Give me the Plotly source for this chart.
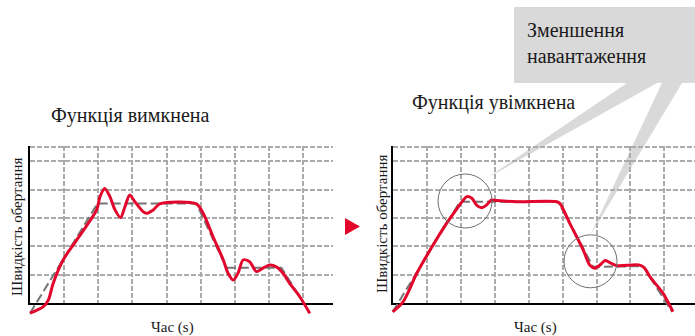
import plotly.graph_objects as go

W, H = 695, 336

# ---------------- data ----------------
# Left panel: function off
left_red_x = [0, 0.39, 0.54, 0.68, 0.97, 1.37, 1.95, 2.05, 2.19, 2.34, 2.49, 2.65, 2.78, 2.92, 3.07,
              3.31, 3.41, 3.61, 3.80, 4.87, 5.07, 5.36, 5.66, 5.80, 5.95, 6.09, 6.24, 6.43, 6.63,
              6.82, 7.02, 7.21, 7.41, 7.60, 7.90, 8.19]
left_red_y = [-0.36, -0.13, 0.11, 0.70, 1.52, 2.23, 3.29, 3.76, 4.05, 3.76, 3.29, 3.02, 3.40, 3.82, 3.58,
              3.23, 3.17, 3.29, 3.50, 3.50, 3.17, 2.34, 1.52, 1.05, 0.81, 1.05, 1.52, 1.46, 1.11,
              1.23, 1.34, 1.28, 1.05, 0.70, 0.22, -0.36]
left_ref_x = [0, 1.98, 4.87, 5.75, 7.36, 8.20]
left_ref_y = [-0.36, 3.52, 3.52, 1.25, 1.25, -0.36]

# Right panel: function on
right_red_x = [0, 0.31, 0.71, 1.10, 1.59, 1.93, 2.08, 2.18, 2.33, 2.47, 2.62, 2.76, 2.91, 3.06, 3.65,
               4.82, 4.92, 5.21, 5.61, 5.80, 5.95, 6.10, 6.25, 6.39, 6.59, 7.27, 7.42, 7.57, 7.96, 8.25]
right_red_y = [-0.31, 0.05, 1.05, 1.87, 2.82, 3.40, 3.64, 3.76, 3.70, 3.46, 3.37, 3.46, 3.64, 3.62, 3.58,
               3.58, 3.52, 2.82, 1.87, 1.34, 1.23, 1.34, 1.50, 1.43, 1.32, 1.34, 1.23, 0.93, 0.34, -0.31]
right_ref_x = [0, 1.98, 4.87, 5.90, 7.37, 8.22]
right_ref_y = [-0.31, 3.58, 3.58, 1.28, 1.30, -0.30]

grid_x_ticks = [1, 2, 3, 4, 5, 6, 7, 8]
grid_y_ticks = [1, 2, 3, 4, 5, 5.5]

title_left = "Функція вимкнена"
title_right = "Функція увімкнена"
callout_text = "Зменшення<br>навантаження"
y_title = "Швидкість обертання"
x_title = "Час (s)"

# ---------------- helpers ----------------
def fx(px):
    return px / W


def fy(py):
    return 1 - py / H


RED = "#e2062c"
REF = "#757575"
GRID = "#ababab"
FONT = "Liberation Serif, Times New Roman, Tinos, serif"

PXX_L, PXX_R = 34.15, 33.97   # px per x unit
PXY = 28.3                    # px per y unit
X0_L, X0_R, Y0 = 30.0, 392.7, 303.0
YTOP = 5.55
XMAX_L = (333 - X0_L) / PXX_L
XMAX_R = (W - X0_R) / PXX_R
XPAD = 0.06
YPAD = 0.45

fig = go.Figure()

# empty traces to anchor grid subplots
fig.add_trace(go.Scatter(x=[], y=[], xaxis="x", yaxis="y", showlegend=False))
fig.add_trace(go.Scatter(x=[], y=[], xaxis="x3", yaxis="y3", showlegend=False))

# data traces
fig.add_trace(go.Scatter(x=left_ref_x, y=left_ref_y, xaxis="x2", yaxis="y2", mode="lines",
                         line=dict(color=REF, width=2, dash="9px,4px"), showlegend=False))
fig.add_trace(go.Scatter(x=left_red_x, y=left_red_y, xaxis="x2", yaxis="y2", mode="lines",
                         line=dict(color=RED, width=3, shape="spline", smoothing=0.8), showlegend=False))
fig.add_trace(go.Scatter(x=right_ref_x, y=right_ref_y, xaxis="x4", yaxis="y4", mode="lines",
                         line=dict(color=REF, width=2, dash="9px,4px"), showlegend=False))
fig.add_trace(go.Scatter(x=right_red_x, y=right_red_y, xaxis="x4", yaxis="y4", mode="lines",
                         line=dict(color=RED, width=3, shape="spline", smoothing=0.8), showlegend=False))

grid_axis = dict(showgrid=True, gridcolor=GRID, gridwidth=2, griddash="5px,2px",
                 showticklabels=False, ticks="", zeroline=False,
                 showline=True, linecolor="black", linewidth=2, fixedrange=True)
hidden_axis = dict(visible=False, fixedrange=True)

fig.update_layout(
    width=W, height=H,
    margin=dict(l=0, r=0, t=0, b=0),
    paper_bgcolor="white", plot_bgcolor="rgba(0,0,0,0)",
    xaxis=dict(grid_axis, domain=[fx(X0_L), fx(333)], range=[0, XMAX_L], tickvals=grid_x_ticks, anchor="y"),
    yaxis=dict(grid_axis, domain=[fy(Y0), fy(Y0 - YTOP * PXY)], range=[0, YTOP], tickvals=grid_y_ticks, anchor="x"),
    xaxis2=dict(hidden_axis, domain=[fx(X0_L - XPAD * PXX_L), fx(333)], range=[-XPAD, XMAX_L], anchor="y2"),
    yaxis2=dict(hidden_axis, domain=[fy(Y0 + YPAD * PXY), fy(Y0 - YTOP * PXY)], range=[-YPAD, YTOP], anchor="x2"),
    xaxis3=dict(grid_axis, domain=[fx(X0_R), 1.0], range=[0, XMAX_R], tickvals=grid_x_ticks, anchor="y3"),
    yaxis3=dict(grid_axis, domain=[fy(Y0), fy(Y0 - YTOP * PXY)], range=[0, YTOP], tickvals=grid_y_ticks, anchor="x3"),
    xaxis4=dict(hidden_axis, domain=[fx(X0_R - XPAD * PXX_R), 1.0], range=[-XPAD, XMAX_R], anchor="y4"),
    yaxis4=dict(hidden_axis, domain=[fy(Y0 + YPAD * PXY), fy(Y0 - YTOP * PXY)], range=[-YPAD, YTOP], anchor="x4"),
)


def path(points):
    s = "M " + " L ".join(f"{fx(px):.5f},{fy(py):.5f}" for px, py in points) + " Z"
    return s


shapes = [
    # callout box
    dict(type="rect", xref="paper", yref="paper", x0=fx(514), x1=1.0, y0=fy(83), y1=fy(7),
         fillcolor="#d9d9d9", line=dict(width=0), layer="below"),
    # wedges
    dict(type="path", xref="paper", yref="paper", path=path([(487, 178), (627, 83), (657, 83)]),
         fillcolor="#d9d9d9", line=dict(width=0), layer="below"),
    dict(type="path", xref="paper", yref="paper", path=path([(590, 236), (662, 83), (682, 83)]),
         fillcolor="#d9d9d9", line=dict(width=0), layer="below"),
    # circles
    dict(type="circle", xref="paper", yref="paper", x0=fx(465 - 27), x1=fx(465 + 27),
         y0=fy(201 + 27), y1=fy(201 - 27), line=dict(color="#6e6e6e", width=1)),
    dict(type="circle", xref="paper", yref="paper", x0=fx(590.5 - 26.5), x1=fx(590.5 + 26.5),
         y0=fy(261.3 + 26.5), y1=fy(261.3 - 26.5), line=dict(color="#6e6e6e", width=1)),
    # red arrow
    dict(type="path", xref="paper", yref="paper", path=path([(345, 218), (345, 235), (360, 226.5)]),
         fillcolor="#e2062c", line=dict(width=0)),
]
fig.update_layout(shapes=shapes)

tf = dict(family=FONT, color="#1a1a1a")
annotations = [
    dict(text=title_left, x=fx(49), y=fy(115), xanchor="left", yanchor="middle",
         font=dict(tf, size=20)),
    dict(text=title_right, x=fx(410), y=fy(102), xanchor="left", yanchor="middle",
         font=dict(tf, size=20)),
    dict(text=callout_text, x=fx(525), y=fy(17), xanchor="left", yanchor="top", align="left",
         font=dict(tf, size=20)),
    dict(text=y_title, x=fx(17), y=fy(227), textangle=-90, xanchor="center", yanchor="middle",
         font=dict(tf, size=15)),
    dict(text=y_title, x=fx(382), y=fy(224), textangle=-90, xanchor="center", yanchor="middle",
         font=dict(tf, size=15)),
    dict(text=x_title, x=fx(172), y=fy(327), xanchor="center", yanchor="middle",
         font=dict(tf, size=15)),
    dict(text=x_title, x=fx(535.5), y=fy(327), xanchor="center", yanchor="middle",
         font=dict(tf, size=15)),
]
for a in annotations:
    a.update(xref="paper", yref="paper", showarrow=False)
fig.update_layout(annotations=annotations)

fig.write_html("out.html", config={"displayModeBar": False},
               post_script="document.body.style.margin='0';")
